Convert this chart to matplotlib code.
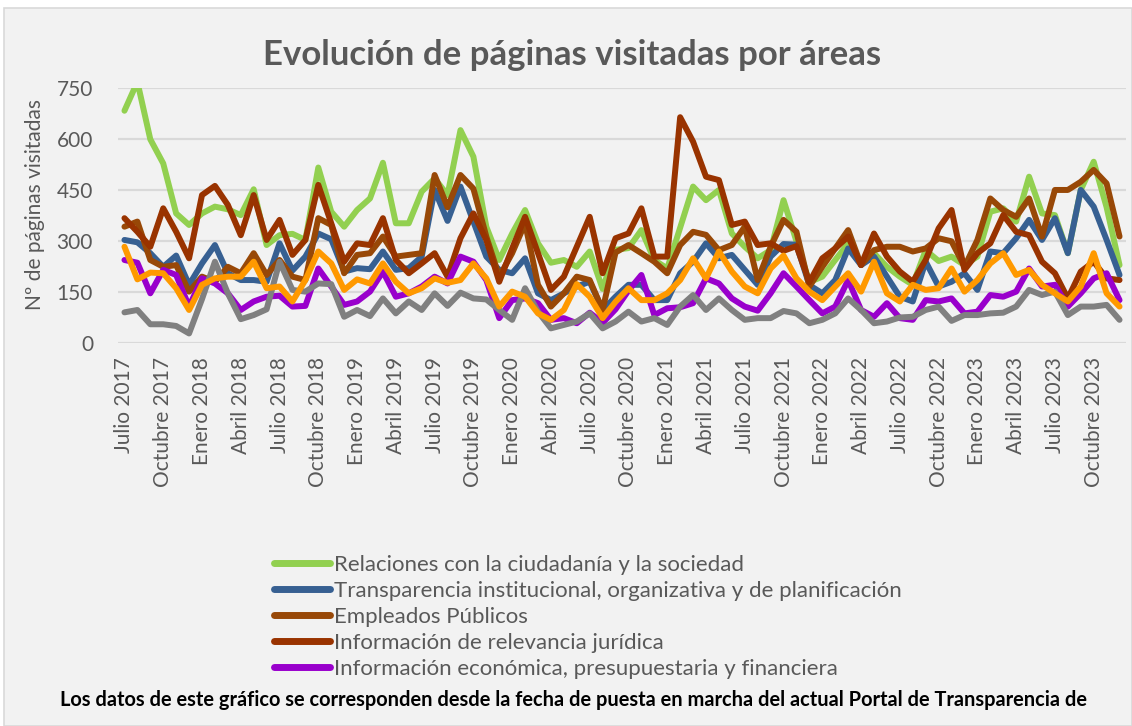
import matplotlib
matplotlib.use("Agg")
import matplotlib.pyplot as plt
from matplotlib.patches import Rectangle

# ---------------- data ----------------
tick_labels = ["Julio 2017", "Octubre 2017", "Enero 2018", "Abril 2018", "Julio 2018", "Octubre 2018",
               "Enero 2019", "Abril 2019", "Julio 2019", "Octubre 2019", "Enero 2020", "Abril 2020",
               "Julio 2020", "Octubre 2020", "Enero 2021", "Abril 2021", "Julio 2021", "Octubre 2021",
               "Enero 2022", "Abril 2022", "Julio 2022", "Octubre 2022", "Enero 2023", "Abril 2023",
               "Julio 2023", "Octubre 2023"]

relaciones = [684, 769, 600, 529, 382, 348, 382, 402, 394, 377, 453, 289, 318, 322, 304, 517, 387, 343, 392, 426,
              531, 353, 353, 446, 485, 436, 627, 549, 343, 245, 323, 392, 294, 237, 245, 225, 270, 160, 275, 280,
              333, 245, 220, 340, 461, 421, 451, 323, 284, 250, 274, 421, 300, 180, 196, 245, 294, 235, 265, 225,
              196, 172, 274, 242, 255, 230, 255, 387, 397, 358, 490, 382, 377, 265, 451, 534, 400, 230]
transparencia = [304, 297, 265, 225, 258, 172, 235, 289, 206, 186, 186, 181, 294, 214, 255, 323, 306, 211, 221, 218,
                 270, 216, 221, 255, 451, 360, 461, 358, 255, 216, 206, 250, 147, 127, 147, 167, 181, 98, 137, 172,
                 172, 127, 127, 206, 240, 294, 250, 260, 216, 172, 255, 292, 290, 171, 147, 186, 279, 230, 255, 196,
                 137, 123, 240, 167, 181, 206, 157, 270, 265, 309, 363, 304, 368, 265, 451, 402, 304, 201]
empleados = [343, 358, 245, 225, 230, 152, 196, 181, 225, 206, 265, 201, 245, 196, 186, 368, 348, 206, 260, 265,
             314, 255, 260, 265, 495, 400, 495, 455, 314, 196, 265, 353, 172, 108, 147, 196, 186, 98, 267, 289,
             265, 240, 206, 289, 328, 319, 274, 289, 343, 186, 284, 363, 328, 167, 225, 279, 333, 230, 274, 284,
             284, 270, 279, 309, 300, 225, 304, 426, 392, 372, 426, 314, 451, 451, 475, 510, 470, 314]
juridica = [368, 328, 284, 397, 328, 250, 436, 463, 407, 318, 436, 304, 363, 260, 304, 466, 353, 240, 294, 289,
            368, 245, 206, 235, 265, 196, 309, 382, 304, 181, 279, 372, 265, 157, 196, 284, 372, 206, 309, 323,
            397, 255, 255, 665, 593, 490, 480, 348, 358, 289, 294, 272, 286, 180, 250, 279, 314, 230, 323, 255,
            211, 181, 245, 338, 392, 216, 265, 294, 377, 328, 318, 240, 206, 132, 211, 240, 191, 186]
economica = [245, 237, 147, 216, 201, 108, 191, 176, 147, 98, 123, 137, 140, 108, 110, 220, 167, 113, 123, 152,
             211, 137, 147, 167, 196, 176, 255, 240, 186, 74, 127, 132, 118, 69, 74, 59, 90, 60, 100, 155,
             201, 83, 103, 106, 118, 191, 176, 132, 108, 96, 147, 206, 167, 127, 88, 108, 186, 98, 78, 118,
             74, 69, 127, 123, 132, 88, 93, 142, 137, 152, 220, 167, 172, 108, 147, 191, 206, 127]
serie6 = [91, 98, 56, 56, 51, 29, 130, 240, 147, 71, 83, 100, 240, 157, 152, 176, 174, 78, 98, 80,
          132, 88, 123, 98, 147, 110, 149, 132, 129, 98, 69, 162, 93, 44, 54, 64, 88, 44, 64, 93,
          64, 74, 54, 108, 142, 98, 132, 98, 69, 74, 74, 95, 88, 59, 69, 88, 132, 98, 59, 64,
          76, 78, 98, 108, 66, 83, 83, 88, 90, 108, 157, 142, 152, 83, 108, 108, 113, 69]
serie7 = [284, 188, 208, 206, 162, 98, 172, 191, 196, 196, 240, 162, 167, 123, 186, 270, 235, 157, 188, 176,
          235, 181, 147, 162, 191, 178, 186, 235, 191, 108, 152, 137, 88, 69, 98, 174, 137, 74, 122, 162,
          127, 127, 147, 186, 250, 191, 270, 211, 167, 147, 220, 258, 191, 152, 127, 167, 206, 152, 240, 147,
          123, 172, 157, 162, 220, 152, 186, 235, 265, 201, 216, 172, 147, 123, 167, 265, 147, 108]

series_names = ["Relaciones con la ciudadanía y la sociedad",
                "Transparencia institucional, organizativa y de planificación",
                "Empleados Públicos",
                "Información de relevancia jurídica",
                "Información económica, presupuestaria y financiera",
                "Información sobre contratos, convenios y subvenciones",
                "Información estadística"]
series_values = [relaciones, transparencia, empleados, juridica, economica, serie6, serie7]
series_colors = ["#92D050", "#376092", "#984807", "#993300", "#9900CC", "#808080", "#FF9900"]

# ---------------- figure ----------------
W, H = 1132, 726
fig = plt.figure(figsize=(W / 100, H / 100), dpi=100, facecolor="white")
bg = Rectangle((4 / W, 0), 1 - 4 / W, (H - 8) / H, transform=fig.transFigure,
               facecolor="#F2F2F2", edgecolor="#D9D9D9", linewidth=1.2, zorder=-10)
fig.patches.append(bg)

ax = fig.add_axes([118 / W, 1 - 343.3 / H, (1126 - 118) / W, (343.3 - 88.3) / H])
ax.set_facecolor("#F2F2F2")
ax.set_zorder(1)

n = len(relaciones)
x = list(range(n))
handles = []
for name, vals, col in zip(series_names, series_values, series_colors):
    h, = ax.plot(x, vals, color=col, lw=4.3, solid_joinstyle="round", solid_capstyle="round",
                 label=name, zorder=3)
    handles.append(h)

ax.set_xlim(-0.5, n - 0.5)
ax.set_ylim(0, 750)
ax.set_yticks(range(0, 751, 150))
ax.set_xticks(range(0, n, 3))
ax.set_xticklabels(tick_labels, rotation=90, fontsize=15, color="#595959", family="Lato")
for t in ax.get_yticklabels():
    t.set_fontsize(15)
    t.set_color("#595959")
    t.set_family("Lato")
ax.tick_params(axis="both", length=0)
ax.tick_params(axis="y", pad=18)
ax.tick_params(axis="x", pad=10)
ax.grid(axis="y", color="#D9D9D9", lw=1.6, zorder=0)
ax.set_axisbelow(True)
for s in ax.spines.values():
    s.set_visible(False)

fig.text(572 / W, 1 - 55 / H, "Evolución de páginas visitadas por áreas", ha="center", va="center",
         fontsize=25, fontweight="bold", color="#595959", family="Lato")
fig.text(35 / W, 1 - 204 / H, "Nº de páginas visitadas", rotation=90, ha="center", va="center",
         fontsize=15, color="#595959", family="Lato")

leg = fig.legend(handles=handles[:5], labels=series_names[:5], loc="upper left",
                 bbox_to_anchor=(274 / W, 1 - 555 / H), frameon=False,
                 handlelength=2.5, handletextpad=0.18, labelspacing=0.27, borderpad=0, borderaxespad=0,
                 prop={"family": "Lato", "size": 16})
for t in leg.get_texts():
    t.set_color("#595959")
for lh in leg.get_lines():
    lh.set_linewidth(5)

fig.text(573 / W, 1 - 700 / H,
         "Los datos de este gráfico se corresponden desde la fecha de puesta en marcha del actual Portal de Transparencia de",
         ha="center", va="center", fontsize=14.4, fontweight="bold", color="black", family="Lato")

fig.savefig("out.png", dpi=100, facecolor=fig.get_facecolor())
